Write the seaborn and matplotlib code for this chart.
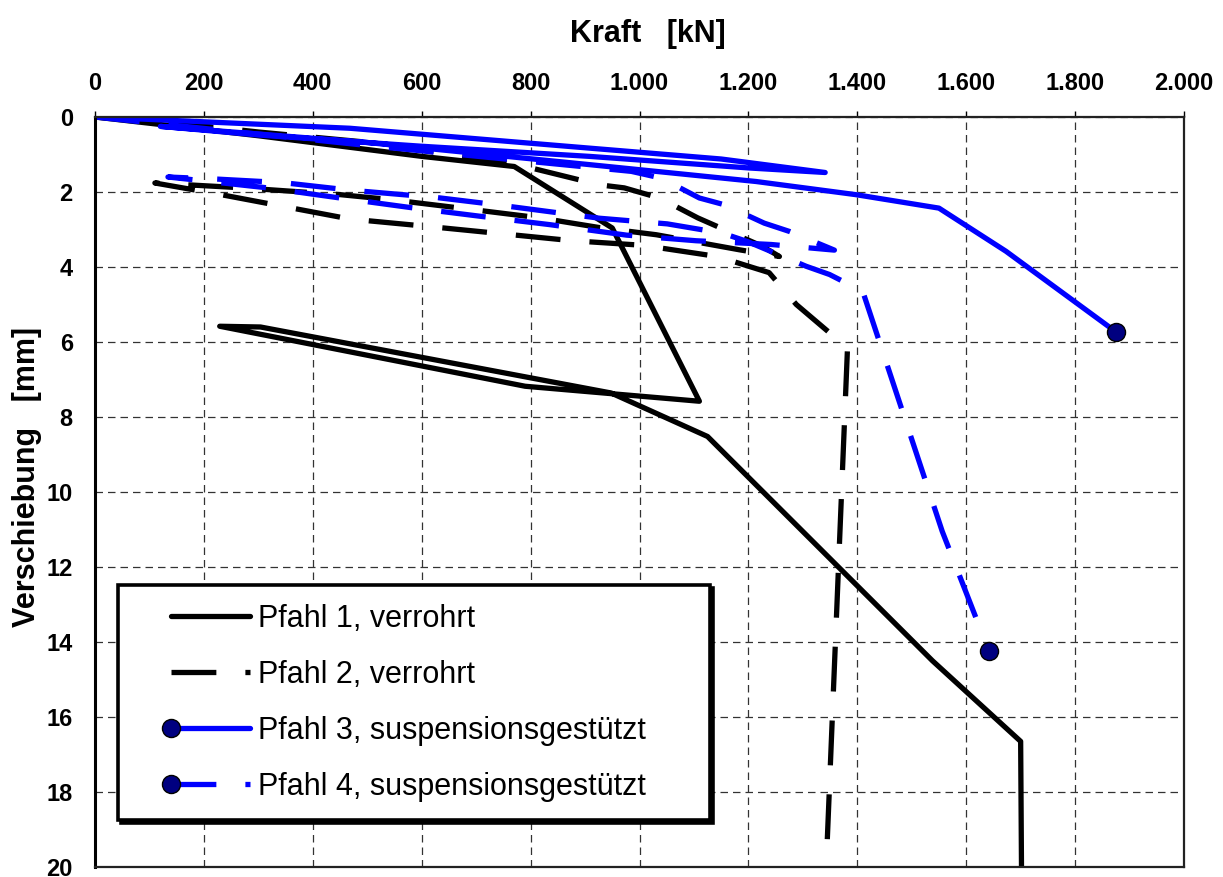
import numpy as np
import pandas as pd
import seaborn as sns
import matplotlib
matplotlib.use("Agg")
import matplotlib.pyplot as plt
from matplotlib.lines import Line2D
from matplotlib.legend_handler import HandlerLine2D
from matplotlib.ticker import FuncFormatter, MultipleLocator

# Kraft [kN] / Verschiebung [mm]
p1_kraft = [0, 300, 600, 770, 950, 1110, 790, 229, 304, 948, 1125, 1538, 1700, 1702]
p1_versch = [0, 0.5, 1.05, 1.32, 2.96, 7.58, 7.18, 5.58, 5.6, 7.36, 8.52, 14.5, 16.65, 21]

p2_kraft = [0, 130, 300, 520, 790, 927, 972, 1037, 1107, 1226, 1257, 1183, 1031, 927,
            817, 666, 541, 450, 272, 110, 224, 468, 620, 877, 1005, 1143, 1238, 1288,
            1382, 1340]
p2_versch = [0, 0.13, 0.4, 0.7, 1.32, 1.81, 1.89, 2.16, 2.69, 3.45, 3.72, 3.54, 3.14, 2.95,
             2.69, 2.42, 2.2, 2.07, 1.89, 1.76, 2.05, 2.72, 2.93, 3.3, 3.42, 3.72, 4.15, 5.0,
             6.16, 21]

p3_kraft = [0, 468, 908, 1150, 1341, 1202, 908, 600, 300, 120, 500, 908, 1214, 1397,
            1550, 1673, 1875]
p3_versch = [0, 0.3, 0.83, 1.12, 1.48, 1.36, 1.05, 0.78, 0.48, 0.25, 0.68, 1.27, 1.72, 2.07,
             2.43, 3.58, 5.73]

p4_kraft = [0, 500, 985, 1040, 1110, 1156, 1229, 1275, 1358, 1281, 1242, 1104, 976, 835,
            709, 582, 455, 317, 134, 217, 345, 468, 629, 743, 927, 1051, 1153, 1198, 1306,
            1349, 1410, 1556, 1642]
p4_versch = [0, 0.76, 1.45, 1.63, 2.16, 2.34, 2.83, 3.05, 3.55, 3.45, 3.4, 3.3, 3.15, 2.87,
             2.65, 2.42, 2.17, 1.89, 1.6, 1.65, 1.75, 1.95, 2.15, 2.35, 2.7, 2.85, 3.1, 3.32,
             3.98, 4.2, 4.65, 11.05, 14.25]

labels = ["Pfahl 1, verrohrt", "Pfahl 2, verrohrt",
          "Pfahl 3, suspensionsgestützt", "Pfahl 4, suspensionsgestützt"]

sns.set_style("white")
plt.rcParams["font.family"] = ["Liberation Sans", "DejaVu Sans"]
plt.rcParams["text.color"] = "black"
plt.rcParams["axes.labelcolor"] = "black"

LW = 3.8
DASH = (0, (8.5, 5.5))
BLUE = "#0000FF"
NAVY = "#000080"


class LeftHandler(HandlerLine2D):
    # line in the right part of the handle box, marker only at its left end
    def get_xdata(self, legend, xdescent, ydescent, width, height, fontsize):
        x = np.linspace(-xdescent + 0.3 * width, -xdescent + width, 2)
        return x, x

    def create_artists(self, *args, **kwargs):
        arts = super().create_artists(*args, **kwargs)
        for a in arts:
            a.set_markevery([0])
        return arts


fig = plt.figure(figsize=(12.23, 8.77), dpi=100)
ax = fig.add_axes([95 / 1223, 10 / 877, 1089 / 1223, 750 / 877])

series = [
    (p1_kraft, p1_versch, "black", "-"),
    (p2_kraft, p2_versch, "black", DASH),
    (p3_kraft, p3_versch, BLUE, "-"),
    (p4_kraft, p4_versch, BLUE, DASH),
]
for kraft, versch, col, ls in series:
    df = pd.DataFrame({"Kraft": kraft, "Verschiebung": versch})
    sns.lineplot(data=df, x="Kraft", y="Verschiebung", sort=False, estimator=None,
                 color=col, lw=LW, linestyle=ls, ax=ax, legend=False,
                 solid_capstyle="round", dash_capstyle="butt")

for kraft, versch in [(p3_kraft, p3_versch), (p4_kraft, p4_versch)]:
    sns.scatterplot(x=[kraft[-1]], y=[versch[-1]], s=13 ** 2, color=NAVY,
                    edgecolor="black", linewidth=1, zorder=5, ax=ax, legend=False)

ax.set_xlim(0, 2000)
ax.set_ylim(20, 0)
ax.xaxis.set_major_locator(MultipleLocator(200))
ax.yaxis.set_major_locator(MultipleLocator(2))
ax.xaxis.set_major_formatter(FuncFormatter(lambda v, p: f"{v:,.0f}".replace(",", ".")))
ax.xaxis.tick_top()
ax.xaxis.set_label_position("top")
ax.tick_params(axis="both", which="major", labelsize=17, length=4, width=1,
               direction="out", pad=12, colors="black")
for lab in ax.get_xticklabels() + ax.get_yticklabels():
    lab.set_fontweight("bold")

ax.grid(True, color="#333333", linestyle=(0, (6, 4)), linewidth=0.9)
for side, sp in ax.spines.items():
    sp.set_color("#222222")
    sp.set_linewidth(1.6)
ax.spines["left"].set_color("black")
ax.spines["left"].set_linewidth(2.2)

ax.set_xlabel("Kraft   [kN]", fontsize=22, fontweight="bold", color="black")
ax.set_ylabel("Verschiebung   [mm]", fontsize=22, fontweight="bold", color="black")
ax.xaxis.set_label_coords(0.508, 1.10)
ax.yaxis.set_label_coords(-0.049, 0.52)

handles = [
    Line2D([], [], color="black", lw=LW, solid_capstyle="round"),
    Line2D([], [], color="black", lw=LW, linestyle=DASH, dash_capstyle="butt"),
    Line2D([], [], color=BLUE, lw=LW, marker="o", ms=13, mfc=NAVY, mec="black",
           mew=1, solid_capstyle="round"),
    Line2D([], [], color=BLUE, lw=LW, linestyle=DASH, marker="o", ms=13, mfc=NAVY,
           mec="black", mew=1, dash_capstyle="butt"),
]
leg = ax.legend(handles, labels, loc="lower left",
                bbox_to_anchor=(23 / 1089, 47 / 750, 592 / 1089, 0.3),
                mode="expand", numpoints=2, handlelength=3.73, handletextpad=0.26,
                fontsize=22, borderpad=0.6, labelspacing=0.85, borderaxespad=0,
                frameon=True, fancybox=False, edgecolor="black", framealpha=1,
                shadow={"color": "black", "alpha": 1},
                handler_map={Line2D: LeftHandler()})
leg.get_frame().set_linewidth(2.6)
for t in leg.get_texts():
    t.set_color("black")

fig.savefig("out.png", dpi=100)
